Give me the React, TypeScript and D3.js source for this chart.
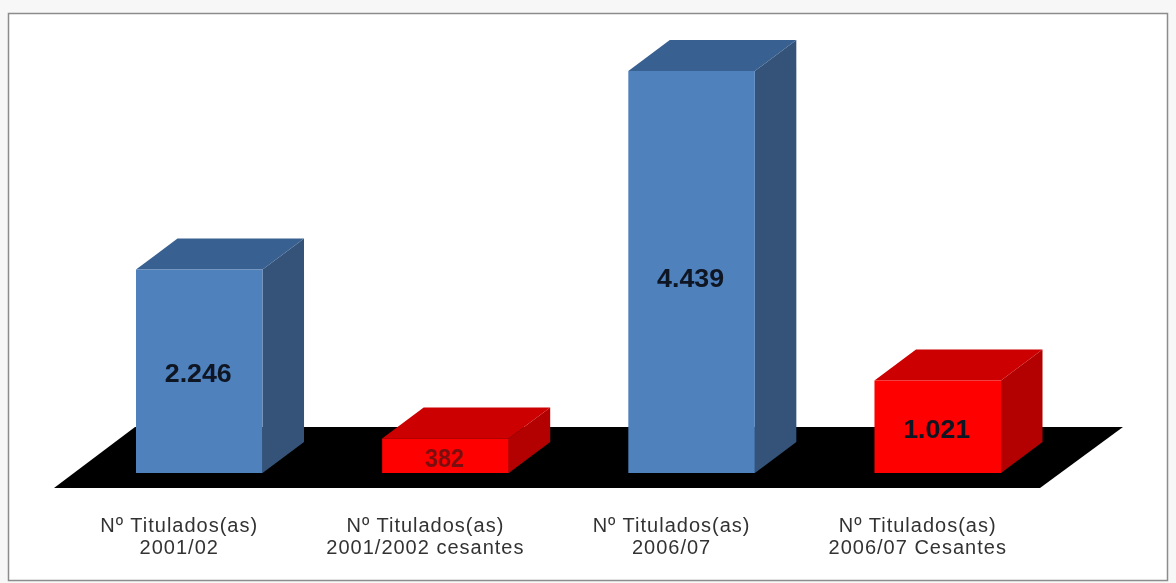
import React from "react";
import * as d3 from "d3";

const categories = ["2001/02", "2001/2002 cesantes", "2006/07", "2006/07 Cesantes"];
const labelFirstLine = "Nº Titulados(as)";
const values = [2246, 382, 4439, 1021];
const valueLabels = ["2.246", "382", "4.439", "1.021"];
const kinds = ["blue", "red", "blue", "red"];

const WIDTH = 1176;
const HEIGHT = 583;
const BASE = 473;
const DX = 41.5;
const DY = -31;
// vertical nudge of each value label from the middle of its bar
const labelNudge = [11, 11, 15, 11];

const palette: Record<string, { front: string; top: string; side: string }> = {
  blue: { front: "#4f81bd", top: "#386090", side: "#345378" },
  red: { front: "#ff0000", top: "#cc0000", side: "#b30000" },
};

export default function App() {
  const x = d3.scaleBand<string>().domain(categories).range([136, 1001]).paddingInner(0.486);
  const y = d3.scaleLinear().domain([0, 4439]).range([BASE, 71]);
  const line = d3.line();

  return (
    <svg
      width={WIDTH}
      height={HEIGHT}
      viewBox={`0 0 ${WIDTH} ${HEIGHT}`}
      style={{ position: "absolute", left: 0, top: 0, background: "#ffffff" }}
    >
      <defs>
        <filter id="soft" x="-5%" y="-5%" width="110%" height="110%">
          <feGaussianBlur stdDeviation="0.55" />
        </filter>
      </defs>
      <rect x={0} y={0} width={WIDTH} height={HEIGHT} fill="#f7f7f7" />
      <rect x={8.5} y={13.5} width={1159} height={567} fill="#ffffff" stroke="#8c8c8c" strokeWidth={1.5} />
      <g filter="url(#soft)">
        <path d="M54,488 L1040,488 L1123,427 L135,427 Z" fill="#000000" />
        {categories.map((c, i) => {
          const x0 = x(c)!;
          const x1 = x0 + x.bandwidth();
          const top = y(values[i]);
          const col = palette[kinds[i]];
          const front = line([[x0, top], [x1, top], [x1, BASE], [x0, BASE]])! + "Z";
          const topFace = line([[x0, top], [x1, top], [x1 + DX, top + DY], [x0 + DX, top + DY]])! + "Z";
          const side = line([[x1, top], [x1 + DX, top + DY], [x1 + DX, BASE + DY], [x1, BASE]])! + "Z";
          return (
            <g key={c}>
              <path d={side} fill={col.side} />
              <path d={topFace} fill={col.top} />
              <path d={front} fill={col.front} />
            </g>
          );
        })}
      </g>
      <g filter="url(#soft)" fontFamily="'Liberation Sans', Arial, sans-serif">
        {categories.map((c, i) => {
          const cx = x(c)! + x.bandwidth() / 2;
          const top = y(values[i]);
          const isSmall = values[i] < 500;
          return (
            <text
              key={c}
              x={cx - 1}
              y={(top + BASE) / 2 + labelNudge[i]}
              textAnchor="middle"
              fontSize={26}
              fontWeight={700}
              fill={isSmall ? "#7a0f0f" : "#0d1420"}
              textLength={isSmall ? 39 : 67}
              lengthAdjust="spacingAndGlyphs"
            >
              {valueLabels[i]}
            </text>
          );
        })}
        {categories.map((c) => {
          const cx = x(c)! + x.bandwidth() / 2 - 20;
          return (
            <text key={c} textAnchor="middle" fontSize={20} letterSpacing={1} fill="#333333">
              <tspan x={cx} y={532}>{labelFirstLine}</tspan>
              <tspan x={cx} y={554}>{c}</tspan>
            </text>
          );
        })}
      </g>
    </svg>
  );
}
